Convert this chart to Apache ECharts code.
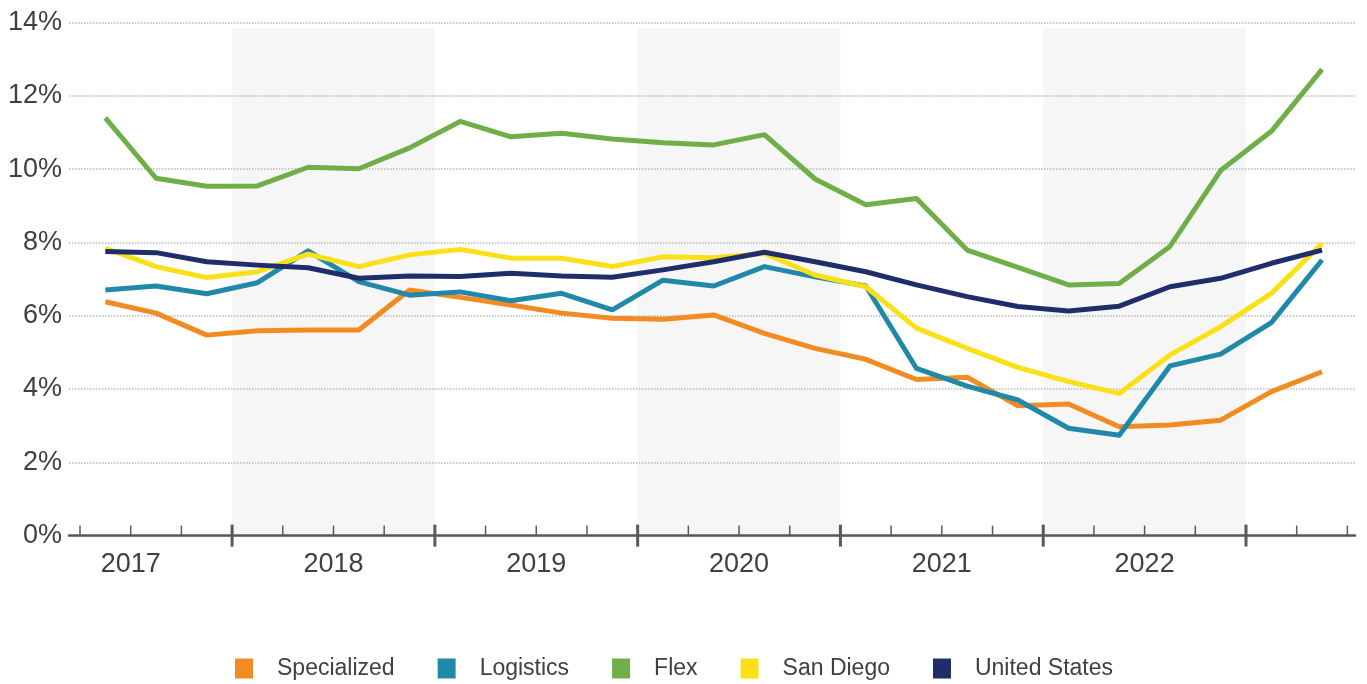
<!DOCTYPE html>
<html>
<head>
<meta charset="utf-8">
<script src="https://cdn.jsdelivr.net/npm/echarts@6/dist/echarts.min.js"></script>
<style>
html,body{margin:0;padding:0;background:#fff;}
#chart{width:1367px;height:684px;}
</style>
</head>
<body>
<div id="chart"></div>
<script>
// Quarters 2017 Q2 .. 2023 Q2
const quarters = ['2017 Q2','2017 Q3','2017 Q4',
  '2018 Q1','2018 Q2','2018 Q3','2018 Q4',
  '2019 Q1','2019 Q2','2019 Q3','2019 Q4',
  '2020 Q1','2020 Q2','2020 Q3','2020 Q4',
  '2021 Q1','2021 Q2','2021 Q3','2021 Q4',
  '2022 Q1','2022 Q2','2022 Q3','2022 Q4',
  '2023 Q1','2023 Q2'];
const yearLabels = ['2017','2018','2019','2020','2021','2022'];
const shadedYears = ['2018','2020','2022'];
const yTicks = [0,2,4,6,8,10,12,14];

const specialized = [6.38,6.07,5.47,5.59,5.61,5.61,6.70,6.50,6.29,6.07,5.93,5.90,6.02,5.52,5.11,4.81,4.26,4.32,3.54,3.59,2.97,3.02,3.15,3.93,4.47];
const logistics   = [6.70,6.81,6.60,6.90,7.77,6.93,6.56,6.65,6.41,6.61,6.16,6.97,6.81,7.34,7.06,6.81,4.56,4.08,3.70,2.93,2.74,4.63,4.95,5.81,7.52];
const flex        = [11.40,9.75,9.53,9.54,10.05,10.01,10.58,11.30,10.88,10.98,10.82,10.72,10.66,10.94,9.73,9.03,9.20,7.79,7.32,6.84,6.88,7.89,9.96,11.03,12.72];
const sanDiego    = [7.84,7.34,7.04,7.20,7.68,7.34,7.66,7.81,7.57,7.57,7.34,7.61,7.58,7.70,7.11,6.79,5.66,5.11,4.59,4.20,3.88,4.93,5.70,6.61,7.97];
const unitedStates= [7.75,7.72,7.47,7.38,7.31,7.02,7.08,7.07,7.16,7.08,7.05,7.25,7.47,7.73,7.47,7.20,6.84,6.52,6.25,6.13,6.26,6.79,7.02,7.43,7.79];

const seriesNames = ['Specialized','Logistics','Flex','San Diego','United States'];
const seriesColors = ['#F28C22','#2088A8','#70AE48','#FBE018','#1F2E6B'];
const seriesData = [specialized, logistics, flex, sanDiego, unitedStates];

// x position of a quarter: 2017 Q1 occupies [0,1]; each quarter is one unit
function quarterPos(label){
  const y = parseInt(label.slice(0,4),10), q = parseInt(label.slice(6),10);
  return (y-2017)*4 + (q-1) + 0.5;
}
function yearStart(year){ return (parseInt(year,10)-2017)*4; }

const lastBoundary = Math.ceil(quarterPos(quarters[quarters.length-1]));
const tickData = [];
for (let b = Math.floor(quarterPos(quarters[0])); b <= lastBoundary; b++) {
  tickData.push([b, b % 4 === 0 ? 1 : 0]);
}
const labelData = yearLabels.map(y => [yearStart(y) + 2, y]);

const series = seriesNames.map((name, k) => ({
  name: name,
  type: 'line',
  data: seriesData[k].map((v, i) => [quarterPos(quarters[i]), v]),
  symbol: 'none',
  lineStyle: {width: 5, color: seriesColors[k], join: 'round'},
  itemStyle: {color: seriesColors[k]},
  z: 3 + k
}));

series[0].markArea = {
  silent: true,
  z: 0,
  itemStyle: {color: '#f6f6f6'},
  data: shadedYears.map(y => [{xAxis: yearStart(y), yAxis: 13.85}, {xAxis: yearStart(y)+4, yAxis: 0}])
};

series.push({
  type: 'custom',
  name: 'ticks',
  clip: false,
  silent: true,
  z: 10,
  data: tickData,
  renderItem: function(params, api){
    const p = api.coord([api.value(0), 0]);
    const major = api.value(1) === 1;
    return {
      type: 'line',
      shape: major ? {x1: p[0], y1: p[1]-11, x2: p[0], y2: p[1]+11}
                   : {x1: p[0], y1: p[1]-10, x2: p[0], y2: p[1]},
      style: {stroke: '#595959', lineWidth: major ? 3 : 1.5}
    };
  }
});
series.push({
  type: 'custom',
  name: 'yearLabels',
  clip: false,
  silent: true,
  z: 10,
  data: labelData,
  dimensions: ['x', {name: 'label', type: 'ordinal'}],
  renderItem: function(params, api){
    const p = api.coord([api.value(0), 0]);
    return {
      type: 'text',
      x: p[0], y: p[1] + 29,
      style: {
        text: labelData[params.dataIndex][1],
        fill: '#404040',
        font: '27px "Liberation Sans", Arial, sans-serif',
        align: 'center',
        verticalAlign: 'middle'
      }
    };
  }
});

const chart = echarts.init(document.getElementById('chart'), null, {renderer: 'canvas'});
chart.setOption({
  animation: false,
  backgroundColor: '#ffffff',
  grid: {left: 69, right: 12, top: 22.5, bottom: 148.4, containLabel: false},
  xAxis: {
    type: 'value',
    min: 0.783,
    max: 26.15,
    z: 2,
    axisLine: {show: true, onZero: true, lineStyle: {color: '#595959', width: 2.5}},
    axisTick: {show: false},
    axisLabel: {show: false},
    splitLine: {show: false}
  },
  yAxis: {
    type: 'value',
    min: yTicks[0],
    max: yTicks[yTicks.length-1],
    interval: 2,
    z: 1,
    axisLine: {show: false},
    axisTick: {show: false},
    axisLabel: {
      formatter: '{value}%',
      color: '#404040',
      fontSize: 27,
      fontFamily: '"Liberation Sans", Arial, sans-serif',
      margin: 7
    },
    splitLine: {show: true, lineStyle: {type: 'dotted', color: '#b8b8b8', width: 1.5}}
  },
  legend: {
    data: seriesNames,
    left: 230,
    top: 652,
    icon: 'rect',
    itemWidth: 18,
    itemHeight: 20,
    itemGap: 43,
    textStyle: {
      fontSize: 23,
      color: '#404040',
      fontFamily: '"Liberation Sans", Arial, sans-serif',
      padding: [0, 0, 0, 19]
    }
  },
  series: series
});
</script>
</body>
</html>
